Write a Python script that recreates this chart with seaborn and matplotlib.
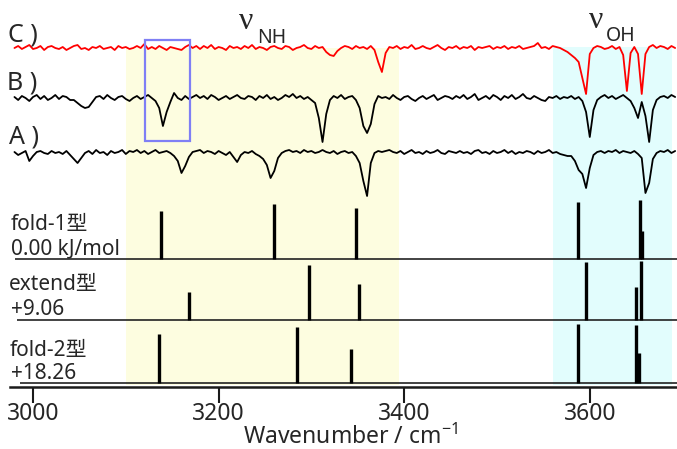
import numpy as np
import pandas as pd
import matplotlib
matplotlib.use('Agg')
import matplotlib.pyplot as plt
from matplotlib.patches import Rectangle
from matplotlib.ticker import MultipleLocator, FuncFormatter
import seaborn as sns

# wavenumber grid of the measured traces (cm-1), 4 cm-1 steps
wavenumber = np.arange(2980, 3693, 4)

# spectra, deviation from each baseline (arb. units, dips negative)
spec_C = [0, 2, -1, 1, 3, -1, 0, 2, -2, 1,
          2, 0, -1, 1, -2, 0, 2, 3, -1, 0,
          -2, 1, 0, 2, -1, 0, 1, -2, 2, 0,
          1, -1, 0, 2, 0, 4, -1, 1, -1, 2,
          0, -2, 1, 0, -1, -2, 1, 3, 0, 2,
          -1, 2, 0, 3, -1, 1, 0, -2, 2, 0,
          1, -1, 2, 0, 3, -1, 1, 0, -2, 1,
          2, 0, -1, 2, 1, -2, 0, 1, 3, 0,
          -1, 2, 0, 1, -4, -7, -8, -3, 0, 2,
          1, -1, 2, 0, 1, -1, 2, -2, -14, -24,
          -5, 1, 0, 2, -1, 1, 0, 3, -1, 0,
          2, 0, -1, 1, 3, 0, -2, 1, 0, 2,
          -1, 1, 0, 2, -2, 1, 0, 1, 2, -1,
          1, 0, 2, -1, 1, 0, 2, -1, 0, 1,
          2, 5, 0, 1, -1, 2, 1, 0, -2, -4,
          -7, -10, -14, -30, -46, -6, 0, 2, 1, -1,
          0, 2, -1, 1, -7, -43, -5, 1, -6, -46,
          -6, 1, 3, 0, 2, 1, -1, 2, 0]
spec_B = [1, -2, 2, 0, -3, 1, 3, -1, 2, -2,
          0, 3, -1, 2, 1, -2, -2, -5, -8, -10,
          -9, -4, 1, 2, -1, 3, 0, -2, 1, 2,
          -1, -3, 0, 2, -1, 1, 3, 0, -3, -10,
          -28, -14, -4, 5, 0, -2, 2, -1, 1, 3,
          0, 2, -1, 3, 1, -2, 0, 2, -1, 1,
          3, 0, -1, 2, 1, -2, 2, 0, 3, -1,
          1, -2, 0, 3, 1, 4, 0, 2, -1, 1,
          -2, -5, -20, -44, -16, -2, 2, 0, 3, -1,
          1, 2, -2, -10, -28, -35, -26, -6, 2, 0,
          1, -1, 3, 0, -2, 1, 2, -1, -3, 0,
          2, -1, 1, 3, -2, 0, 2, 1, -1, 2,
          0, 3, -1, 1, 4, -2, 0, 2, -1, 3,
          1, -2, 2, 0, 3, -1, 1, 4, 0, -1,
          2, 0, -2, -3, 1, 0, 2, -1, 1, 0,
          2, -1, 1, -3, -14, -39, -12, -2, 1, 3,
          0, 2, -1, 1, 3, 0, -3, -10, -20, -4,
          -18, -44, -12, -2, 1, 2, 0, 3, 1]
spec_A = [1, -2, 0, 2, -8, -3, 1, 2, 0, -1,
          2, 0, 1, -1, 2, -2, -6, -10, -5, 0,
          2, -1, 3, 0, 1, -2, 2, 0, 1, 3,
          -1, 2, 1, 3, 0, 2, -1, 1, 3, 0,
          1, 2, 0, -3, -8, -20, -13, -4, 1, 2,
          3, 0, 2, 1, -1, 2, 0, -2, 1, -4,
          -9, -2, 1, 0, 2, -1, -3, -6, -12, -25,
          -18, -5, 0, 2, 3, 1, 2, 0, 3, 1,
          2, 0, 1, 3, 1, 0, 2, -1, 1, 2,
          0, 1, -3, -10, -28, -43, -10, 0, 2, 1,
          2, 3, 1, 0, 2, -1, 1, 3, 0, 1,
          -1, 2, 0, 1, 3, 0, -1, 2, 1, 0,
          2, 0, 1, -1, 2, 3, 0, 1, -1, 2,
          0, 1, 3, 0, 2, -1, 1, 0, 2, 1,
          -1, 2, 0, 1, 3, 0, 1, -1, -2, -3,
          -3, -8, -17, -21, -35, -15, -2, 1, 2, 0,
          2, 1, 3, 0, 2, 1, 0, 2, -1, -5,
          -40, -30, -6, 0, 2, 1, 3, 0, 2]

# calculated stick spectra (cm-1, intensity)
fold1_wn = [3138, 3260, 3348, 3587, 3654, 3656]
fold1_int = [48, 55, 51, 57, 59, 28]
extend_wn = [3168, 3297, 3351, 3596, 3650, 3655]
extend_int = [28, 55, 36, 58, 33, 59]
fold2_wn = [3136, 3284, 3343, 3587, 3650, 3653]
fold2_int = [49, 56, 34, 59, 58, 30]

W, H = 677, 449
sns.set_style('white')
plt.rcParams['font.family'] = ['Noto Sans', 'Noto Sans CJK JP', 'DejaVu Sans']
plt.rcParams['mathtext.default'] = 'regular'

fig = plt.figure(figsize=(W / 100, H / 100), dpi=100)
ax = fig.add_axes([10 / W, 62 / H, 1 - 10 / W, 1 - 62 / H])
ax.set_xlim(2975.2, 3694)
ax.set_ylim(0, 387)

# shaded regions
ax.axvspan(3100, 3394, ymin=2 / 387, ymax=339 / 387, color='#fdfde0', lw=0, zorder=0)
ax.axvspan(3560, 3689, ymin=2 / 387, ymax=340 / 387, color='#e2fdfd', lw=0, zorder=0)

# measured traces
offsets = {'C': 339, 'B': 289, 'A': 234}
frames = []
for name, vals in [('C', spec_C), ('B', spec_B), ('A', spec_A)]:
    frames.append(pd.DataFrame({'wn': wavenumber,
                                'y': np.array(vals) + offsets[name],
                                'trace': name}))
df = pd.concat(frames)
sns.lineplot(data=df, x='wn', y='y', hue='trace',
             palette={'C': '#ff0000', 'B': 'black', 'A': 'black'},
             estimator=None, sort=False, legend=False, linewidth=1.3, ax=ax)

# stick spectra
for wn, inten, base, x0 in [(fold1_wn, fold1_int, 128, 2980.6),
                            (extend_wn, extend_int, 67, 2983),
                            (fold2_wn, fold2_int, 4, 2986)]:
    ax.hlines(base, x0, 3694, color='#222222', lw=1.2)
    ax.vlines(wn, base, np.array(inten) + base, color='black', lw=2.4)

ax.add_patch(Rectangle((3120.7, 246), 48.5, 101, fill=False,
                       edgecolor='#7f7ff5', lw=1.6, zorder=5))

# axis styling
for s in ['top', 'left', 'right']:
    ax.spines[s].set_visible(False)
ax.spines['bottom'].set_linewidth(1.8)
ax.spines['bottom'].set_color('#1a1a1a')
ax.set_yticks([])
ax.xaxis.set_major_locator(MultipleLocator(100))
ax.xaxis.set_minor_locator(MultipleLocator(20))
ax.xaxis.set_major_formatter(FuncFormatter(lambda v, p: f'{v:.0f}' if round(v) % 200 == 0 else ''))
ax.tick_params(axis='x', which='major', direction='out', length=9.5, width=1.5,
               labelsize=16.5, pad=1, color='#1a1a1a')
ax.tick_params(axis='x', which='minor', direction='out', length=5.8, width=1.5, color='#1a1a1a')
sec = ax.secondary_xaxis('bottom')
sec.set_xticks(np.arange(3000, 3700, 200))
sec.tick_params(length=11.5, width=1.5, labelbottom=False, color='#1a1a1a')
sec.spines['bottom'].set_visible(False)
ax.set_xlabel('')
ax.set_ylabel('')


def px(x, y):
    return x / W, 1 - y / H


fig.text(*px(350, 444), 'Wavenumber / cm$^{-1}$', fontsize=16.5, ha='center', va='baseline')

fig.text(*px(8, 41), 'C )', fontsize=18, va='baseline')
fig.text(*px(7, 90), 'B )', fontsize=18, va='baseline')
fig.text(*px(9, 143), 'A )', fontsize=18, va='baseline')
fig.text(*px(239, 29), 'ν', fontsize=23, va='baseline', family=['Liberation Serif'])
fig.text(*px(257, 43), 'NH', fontsize=14, va='baseline')
fig.text(*px(589, 28), 'ν', fontsize=23, va='baseline', family=['Liberation Serif'])
fig.text(*px(606, 41), 'OH', fontsize=14, va='baseline')

for x, y, t in [(11, 230, 'fold-1型'), (11, 254, '0.00 kJ/mol'),
                (9, 290, 'extend型'), (11, 315, '+9.06'),
                (10, 356, 'fold-2型'), (11, 379, '+18.26')]:
    fig.text(*px(x, y), t, fontsize=15, va='baseline')

fig.savefig('out.png', dpi=100)
